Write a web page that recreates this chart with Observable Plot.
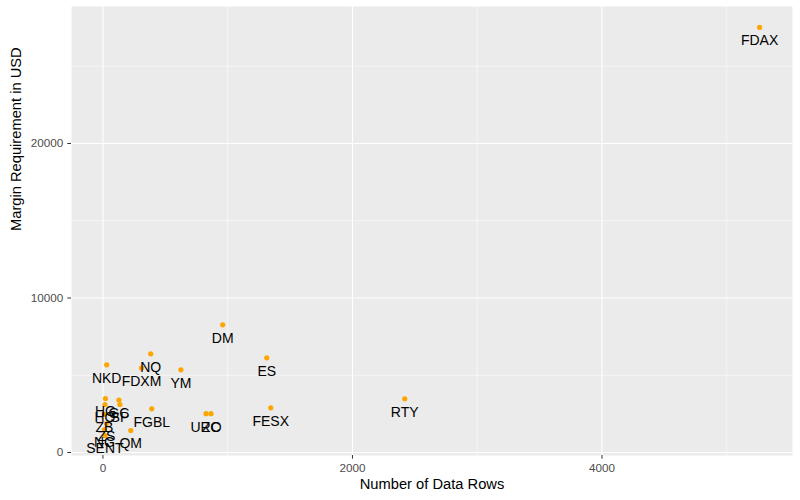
<!DOCTYPE html>
<html>
<head>
<meta charset="utf-8">
<script src="https://cdn.jsdelivr.net/npm/d3@7"></script>
<script src="https://cdn.jsdelivr.net/npm/@observablehq/plot@0.6"></script>
<style>
  html, body { margin: 0; padding: 0; background: #ffffff; }
  #chart { width: 800px; height: 500px; }
</style>
</head>
<body>
<div id="chart"></div>
<script>
// Data
const symbols = ["FDAX","DM","NQ","ES","NKD","FDXM","YM","RTY","FESX","FGBL","URO","ZC","QM","HG","GC","HO","SP","ZB","ZS","NG","SENT"];
const dataRows = [5263, 960, 383, 1313, 30, 309, 625, 2419, 1345, 391, 826, 866, 223, 20, 128, 16, 136, 12, 28, 12, 16];
const marginUSD = [27510, 8265, 6390, 6130, 5676, 5469, 5353, 3476, 2893, 2828, 2511, 2511, 1424, 3495, 3398, 3107, 3107, 2460, 1877, 1489, 1100];

const xMajor = [0, 2000, 4000];
const xMinor = [1000, 3000, 5000];
const yMajor = [0, 10000, 20000];
const yMinor = [5000, 15000, 25000];

const data = symbols.map((s, i) => ({symbol: s, rows: dataRows[i], margin: marginUSD[i]}));

const tickColor = "#333333";
const tickText = "#4D4D4D";

const chart = Plot.plot({
  width: 800,
  height: 500,
  marginLeft: 71,
  marginRight: 8,
  marginTop: 6,
  marginBottom: 45,
  style: {fontFamily: "'Liberation Sans', Arial, sans-serif", background: "#ffffff"},
  x: {domain: [-252, 5527]},
  y: {domain: [-194, 28867]},
  marks: [
    Plot.frame({fill: "#EBEBEB", stroke: null}),
    Plot.gridX(xMinor, {stroke: "#ffffff", strokeWidth: 0.55, strokeOpacity: 1}),
    Plot.gridY(yMinor, {stroke: "#ffffff", strokeWidth: 0.55, strokeOpacity: 1}),
    Plot.gridX(xMajor, {stroke: "#ffffff", strokeWidth: 1.1, strokeOpacity: 1}),
    Plot.gridY(yMajor, {stroke: "#ffffff", strokeWidth: 1.1, strokeOpacity: 1}),
    Plot.axisX(xMajor, {tickSize: 3.7, tickPadding: 4, stroke: tickColor, fill: tickText, fontSize: 11.7, label: null, tickFormat: d => String(d)}),
    Plot.axisY(yMajor, {tickSize: 3.7, tickPadding: 4.5, stroke: tickColor, fill: tickText, fontSize: 11.7, label: null, tickFormat: d => String(d)}),
    Plot.dot(data, {x: "rows", y: "margin", r: 2.6, fill: "#FFA500", stroke: null}),
    Plot.text(data, {x: "rows", y: "margin", text: "symbol", dy: 13.5, fontSize: 14, fill: "#000000"}),
    Plot.text(["Number of Data Rows"], {frameAnchor: "bottom", text: d => d, dy: 33, fontSize: 14.7, fill: "#000000"}),
    Plot.text(["Margin Requirement in USD"], {frameAnchor: "left", text: d => d, dx: -55, rotate: -90, fontSize: 14.7, fill: "#000000"})
  ]
});

document.getElementById("chart").appendChild(chart);
</script>
</body>
</html>
